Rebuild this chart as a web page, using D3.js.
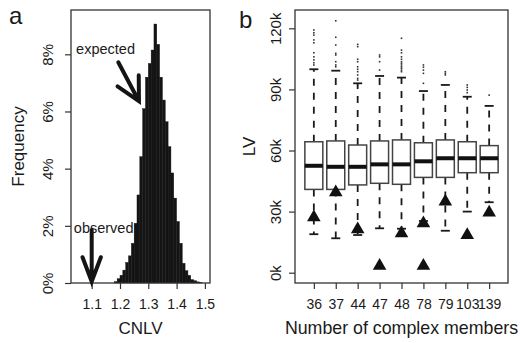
<!DOCTYPE html>
<html>
<head>
<meta charset="utf-8">
<script src="https://cdn.jsdelivr.net/npm/d3@7"></script>
<style>
  body { margin: 0; background: #fff; }
  text { font-family: "Liberation Sans", Arial, sans-serif; fill: #1a1a1a; }
</style>
</head>
<body>
<div id="chart"></div>
<script>
// panel a: CNLV histogram (bin left edges, % frequency)
const cnlvBins = [1.18, 1.19, 1.20, 1.21, 1.22, 1.23, 1.24, 1.25, 1.26, 1.27, 1.28, 1.29, 1.30, 1.31, 1.32, 1.33,
  1.34, 1.35, 1.36, 1.37, 1.38, 1.39, 1.40, 1.41, 1.42, 1.43, 1.44, 1.45, 1.46, 1.47, 1.48];
const cnlvFreq = [0.05, 0.15, 0.27, 0.45, 0.72, 0.95, 1.39, 2.09, 3.08, 4.42, 6.10, 7.20, 7.68, 8.15, 9.06, 8.35,
  7.20, 6.40, 5.64, 4.77, 3.85, 2.97, 2.15, 1.39, 0.69, 0.43, 0.27, 0.12, 0.08, 0.04, 0.02];
const binWidth = 0.01;
const cnlvTicks = [1.1, 1.2, 1.3, 1.4, 1.5];
const freqTicks = [0, 2, 4, 6, 8];
const observedCNLV = 1.1;

// panel b: LV boxplots by number of complex members (values in k)
const groups = ["36", "37", "44", "47", "48", "78", "79", "103", "139"];
const lvQ1 = [40.9, 40.9, 43.1, 43.9, 43.4, 46.8, 46.8, 49.1, 49.1];
const lvMedian = [52.5, 52.0, 52.0, 53.2, 53.2, 54.7, 56.2, 56.2, 56.2];
const lvQ3 = [64.3, 64.7, 62.7, 64.7, 65.2, 63.8, 65.2, 64.3, 62.4];
const lvWhiskLo = [18.9, 16.9, 18.5, 21.8, 21.6, 25.4, 20.6, 30.0, 34.6];
const lvWhiskHi = [99.9, 99.2, 93.0, 96.6, 95.8, 89.2, 92.2, 86.4, 81.9];
const lvOutliers = [
  [102, 103.1, 104.5, 106, 108, 112.9, 114.3, 116.7, 117.8, 119.2],
  [101.1, 102, 103.6, 106.9, 107.7, 111.8, 115.6, 123.7],
  [94.6, 95.4, 97.1, 98.7, 99.9, 101.1, 103.6, 104.8, 111, 112.1],
  [99.5, 103.6, 106, 106.9],
  [98.7, 99.5, 100.4, 101.1, 102, 102.8, 103.6, 104.8, 106, 108, 109.3, 115.1],
  [93, 97.9, 99.5, 100.9, 102],
  [97.1, 97.9, 98.7],
  [88.4, 89.7, 91, 92.2],
  [87.2]
];
const obsGroup = ["36", "37", "44", "47", "48", "78", "78", "79", "103", "139"];
const obsLV = [27.2, 39.5, 21.3, 3.4, 19.3, 24.2, 3.4, 34.9, 18.5, 29.5];
const lvTicks = [0, 30, 60, 90, 120];

const W = 520, H = 343;
const svg = d3.select("#chart").append("svg")
  .attr("width", W)
  .attr("height", H);

// ---------- panel a ----------
const xA = d3.scaleLinear().domain([1.0269, 1.518]).range([71, 210]);
const yA = d3.scaleLinear().domain([0, 9.55]).range([283, 10]);

const gA = svg.append("g");

gA.selectAll("rect.bin")
  .data(cnlvBins)
  .enter()
  .append("rect")
    .attr("class", "bin")
    .attr("x", d => xA(d))
    .attr("width", d => xA(d + binWidth) - xA(d))
    .attr("y", (d, i) => yA(cnlvFreq[i]))
    .attr("height", (d, i) => yA(0) - yA(cnlvFreq[i]))
    .attr("fill", "#141414")
    .attr("stroke", "#141414")
    .attr("stroke-width", 0.4)

gA.append("rect")
  .attr("x", 71).attr("y", 10).attr("width", 139).attr("height", 273)
  .attr("fill", "none").attr("stroke", "#333").attr("stroke-width", 1.3)

const axA = gA.append("g")
  .attr("transform", "translate(0,283)")
  .call(d3.axisBottom(xA).tickValues(cnlvTicks).tickFormat(d3.format(".1f")).tickSize(6).tickSizeOuter(0))
axA.select(".domain").remove();
axA.selectAll("line").attr("stroke", "#333").attr("stroke-width", 1.2);
axA.selectAll("text").attr("y", 26).attr("dy", null).attr("font-size", 14).attr("fill", "#1a1a1a");

const ayA = gA.append("g")
  .attr("transform", "translate(71,0)")
  .call(d3.axisLeft(yA).tickValues(freqTicks).tickFormat(d => d + "%").tickSize(6).tickSizeOuter(0))
ayA.select(".domain").remove();
ayA.selectAll("line").attr("stroke", "#333").attr("stroke-width", 1.2);
ayA.selectAll("text")
  .attr("x", null).attr("dy", null)
  .attr("transform", "translate(-18,0) rotate(-90)")
  .attr("text-anchor", "middle")
  .attr("font-size", 15).attr("fill", "#1a1a1a");

// arrows
function arrow(g, x0, y0, x1, y1, len, ang) {
  const a = Math.atan2(y1 - y0, x1 - x0);
  const pts = [a + Math.PI - ang, a + Math.PI + ang].map(t => [x1 + len * Math.cos(t), y1 + len * Math.sin(t)]);
  const path = d3.path();
  path.moveTo(x0, y0); path.lineTo(x1, y1);
  path.moveTo(pts[0][0], pts[0][1]); path.lineTo(x1, y1); path.lineTo(pts[1][0], pts[1][1]);
  g.append("path")
    .attr("d", path.toString())
    .attr("fill", "none")
    .attr("stroke", "#141414")
    .attr("stroke-width", 4)
    .attr("stroke-linecap", "round")
    .attr("stroke-linejoin", "miter");
}
arrow(gA, xA(observedCNLV), yA(1.85), xA(observedCNLV), yA(0.05), 26, 0.36);
arrow(gA, xA(1.194), yA(7.72), xA(1.267), yA(6.36), 26, 0.48);

gA.append("text").attr("x", xA(1.045)).attr("y", yA(8.0)).attr("font-size", 14.5).text("expected");
gA.append("text").attr("x", xA(1.037)).attr("y", yA(1.75)).attr("font-size", 14.5).text("observed");

gA.append("text").attr("x", 140.5).attr("y", 334).attr("text-anchor", "middle").attr("font-size", 17).text("CNLV");
gA.append("text").attr("transform", "translate(24,146.5) rotate(-90)").attr("text-anchor", "middle")
  .attr("font-size", 17).text("Frequency");
gA.append("text").attr("x", 9).attr("y", 24).attr("font-size", 24).text("a");

// ---------- panel b ----------
const xB = d3.scalePoint().domain(groups).range([295, 508]).padding(0.86);
const yB = d3.scaleLinear().domain([-5.06, 129]).range([283, 10]);
const boxW = xB.step() * 0.82;
const capW = boxW * 0.5;

const gB = svg.append("g");

const boxes = gB.selectAll("g.box")
  .data(groups)
  .enter()
  .append("g")
    .attr("class", "box")
    .attr("transform", d => "translate(" + xB(d) + ",0)")

// whiskers
boxes.append("line")
  .attr("y1", (d, i) => yB(lvQ3[i])).attr("y2", (d, i) => yB(lvWhiskHi[i]))
  .attr("stroke", "#1a1a1a").attr("stroke-width", 1.8).attr("stroke-dasharray", "7,7")
boxes.append("line")
  .attr("y1", (d, i) => yB(lvQ1[i])).attr("y2", (d, i) => yB(lvWhiskLo[i]))
  .attr("stroke", "#1a1a1a").attr("stroke-width", 1.8).attr("stroke-dasharray", "7,7")
boxes.append("line")
  .attr("x1", -capW / 2).attr("x2", capW / 2)
  .attr("y1", (d, i) => yB(lvWhiskHi[i])).attr("y2", (d, i) => yB(lvWhiskHi[i]))
  .attr("stroke", "#1a1a1a").attr("stroke-width", 1.8)
boxes.append("line")
  .attr("x1", -capW / 2).attr("x2", capW / 2)
  .attr("y1", (d, i) => yB(lvWhiskLo[i])).attr("y2", (d, i) => yB(lvWhiskLo[i]))
  .attr("stroke", "#1a1a1a").attr("stroke-width", 1.8)

// boxes
boxes.append("rect")
  .attr("x", -boxW / 2).attr("width", boxW)
  .attr("y", (d, i) => yB(lvQ3[i]))
  .attr("height", (d, i) => yB(lvQ1[i]) - yB(lvQ3[i]))
  .attr("fill", "#fff").attr("stroke", "#444").attr("stroke-width", 1.5)
boxes.append("line")
  .attr("x1", -boxW / 2).attr("x2", boxW / 2)
  .attr("y1", (d, i) => yB(lvMedian[i])).attr("y2", (d, i) => yB(lvMedian[i]))
  .attr("stroke", "#111").attr("stroke-width", 4)

// outliers
boxes.selectAll("rect.out")
  .data((d, i) => lvOutliers[i])
  .enter()
  .append("rect")
    .attr("class", "out")
    .attr("x", -0.8).attr("width", 1.6)
    .attr("y", d => yB(d) - 0.8).attr("height", 1.6)
    .attr("fill", "#333")

// observed LV triangles
gB.selectAll("path.obs")
  .data(obsLV)
  .enter()
  .append("path")
    .attr("class", "obs")
    .attr("d", d3.symbol().type(d3.symbolTriangle).size(80))
    .attr("transform", (d, i) => "translate(" + xB(obsGroup[i]) + "," + yB(d) + ")")
    .attr("fill", "#111")

gB.append("rect")
  .attr("x", 295).attr("y", 10).attr("width", 213).attr("height", 273)
  .attr("fill", "none").attr("stroke", "#333").attr("stroke-width", 1.3)

const axB = gB.append("g")
  .attr("transform", "translate(0,283)")
  .call(d3.axisBottom(xB).tickSize(6).tickSizeOuter(0))
axB.select(".domain").remove();
axB.selectAll("line").attr("stroke", "#333").attr("stroke-width", 1.2);
axB.selectAll("text").attr("y", 26).attr("dy", null).attr("font-size", 14).attr("fill", "#1a1a1a");

const ayB = gB.append("g")
  .attr("transform", "translate(295,0)")
  .call(d3.axisLeft(yB).tickValues(lvTicks).tickFormat(d => d + "k").tickSize(6).tickSizeOuter(0))
ayB.select(".domain").remove();
ayB.selectAll("line").attr("stroke", "#333").attr("stroke-width", 1.2);
ayB.selectAll("text")
  .attr("x", null).attr("dy", null)
  .attr("transform", "translate(-14,0) rotate(-90)")
  .attr("text-anchor", "middle")
  .attr("font-size", 15).attr("fill", "#1a1a1a");

gB.append("text").attr("x", 401.5).attr("y", 334).attr("text-anchor", "middle").attr("font-size", 17.8)
  .text("Number of complex members");
gB.append("text").attr("transform", "translate(255,146.5) rotate(-90)").attr("text-anchor", "middle")
  .attr("font-size", 17).text("LV");
gB.append("text").attr("x", 239).attr("y", 28).attr("font-size", 24).text("b");
</script>
</body>
</html>
